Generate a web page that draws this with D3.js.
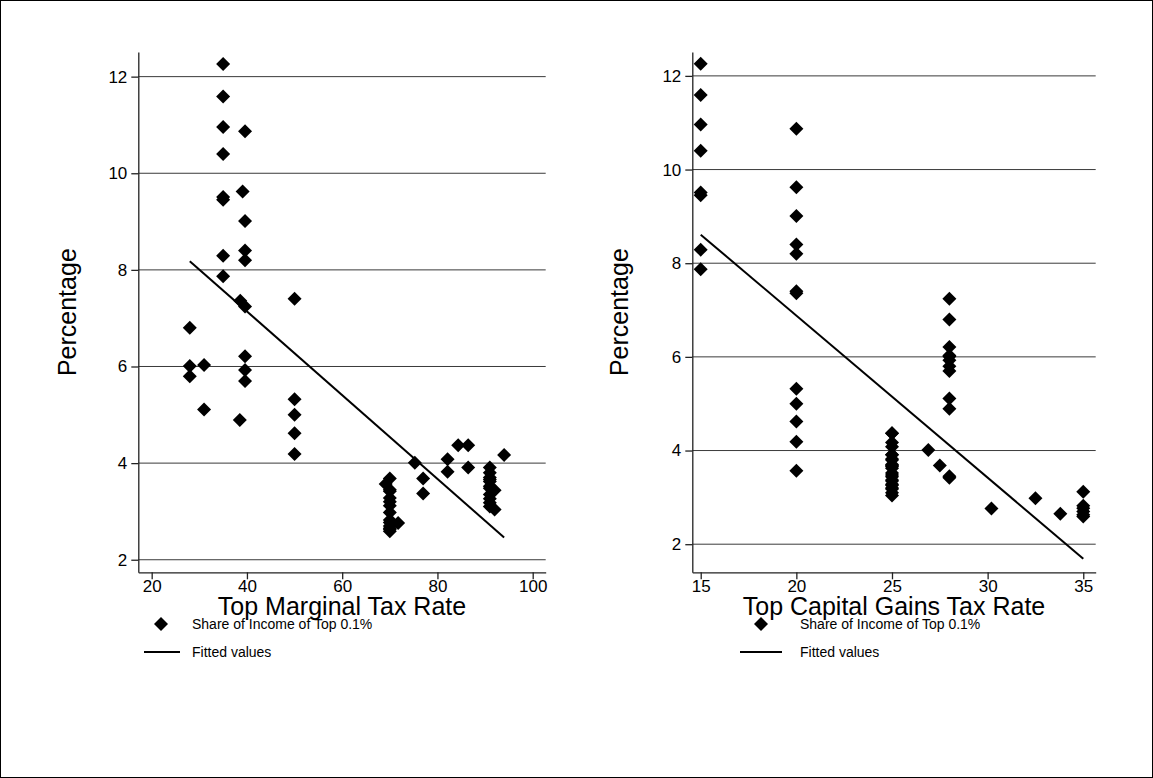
<!DOCTYPE html>
<html><head><meta charset="utf-8">
<script src="https://cdn.jsdelivr.net/npm/d3@7"></script>
<style>body{margin:0;background:#fff}svg{display:block;font-family:"Liberation Sans",Arial,sans-serif}</style>
</head><body><svg id="c" width="1153" height="778"></svg>
<script>
const years = [1945,1946,1947,1948,1949,1950,1951,1952,1953,1954,1955,1956,1957,1958,1959,1960,1961,1962,1963,1964,1965,1966,1967,1968,1969,1970,1971,1972,1973,1974,1975,1976,1977,1978,1979,1980,1981,1982,1983,1984,1985,1986,1987,1988,1989,1990,1991,1992,1993,1994,1995,1996,1997,1998,1999,2000,2001,2002,2003,2004,2005,2006,2007,2008,2009,2010];
const topMarginalRate = [94,86.45,86.45,82.13,82.13,84.36,91,92,92,91,91,91,91,91,91,91,91,91,91,77,70,70,70,75.25,77,71.75,70,70,70,70,70,70,70,70,70,70,69.13,50,50,50,50,50,38.5,28,28,28,31,31,39.6,39.6,39.6,39.6,39.6,39.6,39.6,39.6,39.1,38.6,35,35,35,35,35,35,35,35];
const topCapGainsRate = [25,25,25,25,25,25,25,25,25,25,25,25,25,25,25,25,25,25,25,25,25,25,25,26.9,27.5,30.2,32.5,35,35,35,35,35,35,33.8,28,28,20,20,20,20,20,20,28,28,28,28,28,28,28,28,28,28,20,20,20,20,20,20,15,15,15,15,15,15,15,15];
const shareTop01 = [4.17,4.37,3.91,4.08,3.82,4.37,3.62,3.44,3.04,3.18,3.35,3.52,3.26,3.10,3.48,3.66,3.80,3.70,3.91,3.37,3.68,3.28,3.20,4.01,3.68,2.76,2.98,3.12,2.82,2.59,2.63,2.70,2.77,2.65,3.42,3.45,3.57,4.19,4.62,5.00,5.32,7.40,4.89,6.80,6.01,5.80,6.03,5.11,5.70,5.93,6.21,7.24,8.20,8.40,9.01,10.87,9.62,7.36,7.87,9.45,10.96,11.59,12.26,10.40,8.29,9.51];
const fitMarginalX = [28, 94];
const fitMarginalY = [8.18, 2.46];
const fitCapGainsX = [15, 35];
const fitCapGainsY = [8.61, 1.69];
const yTicks = [2,4,6,8,10,12];
const xTicksMarginal = [20,40,60,80,100];
const xTicksCapGains = [15,20,25,30,35];
const legendLabels = ["Share of Income of Top 0.1%","Fitted values"];
const xTitles = ["Top Marginal Tax Rate","Top Capital Gains Tax Rate"];
const yTitle = "Percentage";

const svg = d3.select("#c");
svg.append("rect").attr("x",0.5).attr("y",0.5).attr("width",1152).attr("height",777)
  .attr("fill","#fff").attr("stroke","#000").attr("stroke-width",1);

const panels = [
  {x0:138.3,x1:545.7,y0:52,y1:572.3,xd:[17.19,102.73],yd:[1.74,12.51],xv:topMarginalRate,xt:xTicksMarginal,fx:fitMarginalX,fy:fitMarginalY,title:xTitles[0],ytx:76,mk:161,ln:[144,180],tx:192},
  {x0:692.3,x1:1095.7,y0:52,y1:572.3,xd:[14.56,35.65],yd:[1.40,12.51],xv:topCapGainsRate,xt:xTicksCapGains,fx:fitCapGainsX,fy:fitCapGainsY,title:xTitles[1],ytx:628,mk:761,ln:[740,782],tx:800}
];

const diamond = d3.symbol().type(d3.symbolSquare).size(98);

panels.forEach(p=>{
  const x = d3.scaleLinear().domain(p.xd).range([p.x0,p.x1]);
  const y = d3.scaleLinear().domain(p.yd).range([p.y1,p.y0]);
  const g = svg.append("g");
  g.selectAll("line.grid").data(yTicks).join("line").attr("class","grid")
    .attr("x1",p.x0).attr("x2",p.x1).attr("y1",d=>y(d)).attr("y2",d=>y(d))
    .attr("stroke","#3a3a3a").attr("stroke-width",1);
  const ya = g.append("g").attr("transform",`translate(${p.x0},0)`)
    .call(d3.axisLeft(y).tickValues(yTicks).tickSize(7).tickSizeOuter(0).tickPadding(4));
  const xa = g.append("g").attr("transform",`translate(0,${p.y1})`)
    .call(d3.axisBottom(x).tickValues(p.xt).tickSize(7).tickSizeOuter(0).tickPadding(1));
  [ya,xa].forEach(a=>{
    a.select(".domain").attr("stroke","#222").attr("stroke-width",1.3);
    a.selectAll(".tick line").attr("stroke","#222").attr("stroke-width",1.3);
    a.selectAll("text").attr("font-size",17).attr("fill","#000").attr("font-family","Liberation Sans, Arial, sans-serif");
  });
  g.selectAll("path.pt").data(shareTop01).join("path").attr("class","pt")
    .attr("d",diamond)
    .attr("transform",(d,i)=>`translate(${x(p.xv[i])},${y(d)}) rotate(45)`)
    .attr("fill","#000");
  g.append("line").attr("x1",x(p.fx[0])).attr("y1",y(p.fy[0])).attr("x2",x(p.fx[1])).attr("y2",y(p.fy[1]))
    .attr("stroke","#000").attr("stroke-width",2);
  g.append("text").attr("x",(p.x0+p.x1)/2).attr("y",615).attr("text-anchor","middle")
    .attr("font-size",25).text(p.title);
  g.append("text").attr("transform",`translate(${p.ytx},${(p.y0+p.y1)/2}) rotate(-90)`)
    .attr("text-anchor","middle").attr("font-size",25).text(yTitle);
  g.append("path").attr("d",diamond).attr("transform",`translate(${p.mk},624) rotate(45)`).attr("fill","#000");
  g.append("line").attr("x1",p.ln[0]).attr("x2",p.ln[1]).attr("y1",652).attr("y2",652).attr("stroke","#000").attr("stroke-width",2);
  g.selectAll("text.lt").data(legendLabels).join("text").attr("class","lt")
    .attr("x",p.tx).attr("y",(d,i)=>624+28*i).attr("dy","0.35em").attr("font-size",14).text(d=>d);
});
</script></body></html>
